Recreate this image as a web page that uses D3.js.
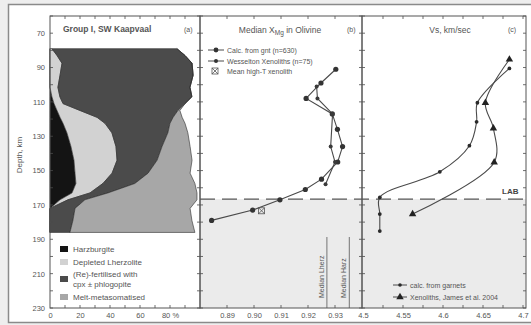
<!DOCTYPE html>
<html>
<head>
<meta charset="utf-8">
<script src="https://cdn.jsdelivr.net/npm/d3@7"></script>
<style>
  html, body { margin: 0; padding: 0; background: #eeeeee; }
  svg { display: block; font-family: "Liberation Sans", Arial, sans-serif; }
</style>
</head>
<body>
<svg id="chart" width="531" height="325"></svg>
<script>
// ---------- Panel (a): lithology proportions with depth (%) ----------
const litDepth      = [79, 83, 87.5, 94.5, 101.5, 107, 111, 115, 119, 122.5, 128, 136, 144, 151.5, 157.5, 163, 167, 172, 179, 186];
const harzburgite   = [0, 0, 0, 0, 0, 1.3, 2.7, 4.7, 6.7, 8.7, 11.3, 14, 16, 16.7, 17.3, 14.7, 6.7, 0, 0, 0];
const depletedLherz = [1.3, 4.7, 8, 6.7, 5.3, 5.3, 6, 15.3, 24.7, 28, 30, 30, 28.7, 24.7, 18, 12, 5.3, 0, 0, 0];
const refertilised  = [83.3, 85.3, 86.7, 88.7, 88, 88, 81.3, 65.3, 50.7, 43.3, 37.3, 30.7, 26.7, 24, 21.3, 12, 11.3, 16.7, 15.3, 13.3];
const meltMetasom   = [0, 0, 0, 0, 0, 0, 0, 1.3, 6, 10, 13.3, 18.7, 23.3, 28, 40, 59.3, 74.7, 76.7, 79.3, 83.3];
const litKeys   = ["harz", "dep", "refert", "melt"];
const litColors = ["#141414", "#d2d2d2", "#4b4b4b", "#a7a7a7"];
const litLabels = [["Harzburgite"], ["Depleted Lherzolite"], ["(Re)-fertilised with", "cpx \u00b1 phlogopite"], ["Melt-metasomatised"]];

// ---------- Panel (b): median Mg# in olivine ----------
const gntDepth = [91, 99, 108, 117, 126, 136, 145, 155, 161, 167, 173, 179];
const gntXmg   = [0.9303, 0.9248, 0.9193, 0.9290, 0.9309, 0.9328, 0.9310, 0.9250, 0.9190, 0.9096, 0.8995, 0.8843];
const wesDepth = [101, 108, 117, 136, 145, 158];
const wesXmg   = [0.9232, 0.9235, 0.9291, 0.9284, 0.9300, 0.9265];
const highTDepth = 173.4, highTXmg = 0.9028;
const medianLherz = 0.927, medianHarz = 0.9353;

// ---------- Panel (c): shear-wave velocity ----------
const vsGntDepth = [90.5, 110.5, 121.6, 135.5, 150.7, 165.6, 175.3, 185.2];
const vsGnt      = [4.683, 4.643, 4.642, 4.633, 4.596, 4.521, 4.521, 4.521];
const vsXenDepth = [85.3, 110.5, 125.4, 145.2, 175.3];
const vsXen      = [4.683, 4.653, 4.663, 4.664, 4.562];

const labDepth = 166.6;
const depthLabels = [70, 90, 110, 130, 150, 170, 190, 210, 230];
const pctLabels = [0, 20, 40, 60, 80];
const xmgLabels = [0.89, 0.90, 0.91, 0.92, 0.93];
const vsLabels = [4.5, 4.55, 4.6, 4.65, 4.7];

const svg = d3.select("#chart");
const ink = "#4a4a4a", txt = "#555";

// scales
const y  = d3.scaleLinear().domain([60, 230]).range([16, 308]);
const xa = d3.scaleLinear().domain([0, 100]).range([50, 200]);
const xb = d3.scaleLinear().domain([0.88, 0.94]).range([200, 362]);
const xc = d3.scaleLinear().domain([4.5, 4.7]).range([363, 523]);
const plotTop = 16, plotBot = 308;
const panels = [
  { x0: 50, x1: 200, sx: xa, minor: d3.range(0, 101, 10) },
  { x0: 200, x1: 362, sx: xb, minor: d3.range(0.88, 0.9401, 0.01) },
  { x0: 362, x1: 526, sx: xc, minor: d3.range(4.5, 4.701, 0.025) }
];

// figure frame
svg.append("rect").attr("x", 8.5).attr("y", 4.5).attr("width", 530).attr("height", 318)
  .attr("fill", "#fff").attr("stroke", "#8a8a8a").attr("stroke-width", 1.5);

// shaded zone below the LAB in panels b and c
svg.append("rect").attr("x", 200).attr("y", y(labDepth)).attr("width", 326).attr("height", plotBot - y(labDepth))
  .attr("fill", "#ebebeb");

// ---------- panel (a) stacked areas ----------
const litRows = litDepth.map((d, i) => ({ depth: d, harz: harzburgite[i], dep: depletedLherz[i], refert: refertilised[i], melt: meltMetasom[i] }));
const stack = d3.stack().keys(litKeys)(litRows);
const area = d3.area()
  .y(d => y(d.data.depth))
  .x0(d => xa(d[0]))
  .x1(d => xa(d[1]));
svg.append("g").selectAll("path").data(stack).join("path")
  .attr("d", area)
  .attr("fill", (d, i) => litColors[i])
  .attr("stroke", "#2e2e2e").attr("stroke-width", 0.6).attr("stroke-linejoin", "round");

// panel (a) legend
const legA = svg.append("g").attr("font-size", 8).attr("fill", txt);
const legRows = [249, 262, 279, 297];
litLabels.forEach((lines, i) => {
  legA.append("rect").attr("x", 60).attr("y", legRows[i] - 3).attr("width", 8).attr("height", 6)
    .attr("fill", litColors[i]);
  const t = legA.append("text").attr("x", 73).attr("y", legRows[i] + 3 - (lines.length - 1) * 5.5);
  lines.forEach((l, k) => t.append("tspan").attr("x", 73).attr("dy", k ? 10.5 : 0).text(l));
});

// LAB dashed line
svg.append("line").attr("x1", 200).attr("x2", 526).attr("y1", y(labDepth)).attr("y2", y(labDepth))
  .attr("stroke", "#555").attr("stroke-width", 1.2).attr("stroke-dasharray", "15,7");
svg.append("text").attr("x", 502).attr("y", y(labDepth) - 5).attr("font-size", 8)
  .attr("font-weight", "bold").attr("fill", "#444").text("LAB");

// panel (b) median reference lines
[[medianLherz, "Median Lherz", 324], [medianHarz, "Median Harz", 346]].forEach(([v, label, tx]) => {
  svg.append("line").attr("x1", xb(v)).attr("x2", xb(v)).attr("y1", 237).attr("y2", plotBot)
    .attr("stroke", "#666").attr("stroke-width", 0.9);
  svg.append("text").attr("transform", `translate(${tx},298) rotate(-90)`)
    .attr("font-size", 7).attr("fill", txt).text(label);
});

// ---------- panel (b) series ----------
const lineB = d3.line().x(d => xb(d[1])).y(d => y(d[0]));
const gntPts = gntDepth.map((d, i) => [d, gntXmg[i]]);
const wesPts = wesDepth.map((d, i) => [d, wesXmg[i]]);
svg.append("path").attr("d", lineB(wesPts)).attr("fill", "none").attr("stroke", ink).attr("stroke-width", 1.1);
svg.append("path").attr("d", lineB(gntPts)).attr("fill", "none").attr("stroke", ink).attr("stroke-width", 1.1);
svg.append("g").selectAll("circle").data(gntPts).join("circle")
  .attr("cx", d => xb(d[1])).attr("cy", d => y(d[0])).attr("r", 2.6).attr("fill", "#333");
svg.append("g").selectAll("circle").data(wesPts).join("circle")
  .attr("cx", d => xb(d[1])).attr("cy", d => y(d[0])).attr("r", 2.0).attr("fill", "#3a3a3a");

function boxCross(g, cx, cy) {
  g.append("rect").attr("x", cx - 3).attr("y", cy - 3).attr("width", 6).attr("height", 6)
    .attr("fill", "none").attr("stroke", "#555").attr("stroke-width", 0.8);
  g.append("path").attr("d", `M${cx - 3},${cy - 3}L${cx + 3},${cy + 3}M${cx + 3},${cy - 3}L${cx - 3},${cy + 3}`)
    .attr("stroke", "#555").attr("stroke-width", 0.8);
}
boxCross(svg, xb(highTXmg), y(highTDepth));

// panel (b) legend
const legB = svg.append("g").attr("font-size", 7).attr("fill", txt);
[["Calc. from gnt (n=630)", 50, 2.4], ["Wesselton Xenoliths (n=75)", 61, 2.0]].forEach(([l, ly, r]) => {
  legB.append("line").attr("x1", 208).attr("x2", 224).attr("y1", ly).attr("y2", ly).attr("stroke", ink);
  legB.append("circle").attr("cx", 216).attr("cy", ly).attr("r", r).attr("fill", "#333");
  legB.append("text").attr("x", 227).attr("y", ly + 2.5).text(l);
});
boxCross(legB, 215, 71);
legB.append("text").attr("x", 227).attr("y", 73.5).text("Mean high-T xenolith");

// ---------- panel (c) series ----------
const lineC = d3.line().x(d => xc(d[1])).y(d => y(d[0])).curve(d3.curveCatmullRom.alpha(0.5));
const vsGntPts = vsGntDepth.map((d, i) => [d, vsGnt[i]]);
const vsXenPts = vsXenDepth.map((d, i) => [d, vsXen[i]]);
svg.append("path").attr("d", lineC(vsGntPts)).attr("fill", "none").attr("stroke", ink).attr("stroke-width", 1.1);
svg.append("path").attr("d", lineC(vsXenPts)).attr("fill", "none").attr("stroke", ink).attr("stroke-width", 1.1);
svg.append("g").selectAll("circle").data(vsGntPts).join("circle")
  .attr("cx", d => xc(d[1])).attr("cy", d => y(d[0])).attr("r", 1.9).attr("fill", "#2a2a2a");
const tri = d3.symbol().type(d3.symbolTriangle).size(24);
svg.append("g").selectAll("path").data(vsXenPts).join("path")
  .attr("transform", d => `translate(${xc(d[1])},${y(d[0])})`).attr("d", tri).attr("fill", "#222");

// panel (c) legend
const legC = svg.append("g").attr("font-size", 7).attr("fill", txt);
legC.append("line").attr("x1", 393).attr("x2", 407).attr("y1", 285).attr("y2", 285).attr("stroke", ink);
legC.append("circle").attr("cx", 400).attr("cy", 285).attr("r", 1.8).attr("fill", "#2a2a2a");
legC.append("text").attr("x", 410).attr("y", 287.5).text("calc. from garnets");
legC.append("line").attr("x1", 393).attr("x2", 407).attr("y1", 297).attr("y2", 297).attr("stroke", ink);
legC.append("path").attr("transform", "translate(400,297)").attr("d", tri).attr("fill", "#222");
legC.append("text").attr("x", 410).attr("y", 299.5).text("Xenoliths, James et al. 2004");

// ---------- frames and ticks ----------
const depthMinor = d3.range(60, 231, 10);
panels.forEach(p => {
  const g = svg.append("g").attr("stroke", ink).attr("stroke-width", 0.8);
  depthMinor.forEach(d => {
    g.append("line").attr("x1", p.x0).attr("x2", p.x0 + 3).attr("y1", y(d)).attr("y2", y(d));
    g.append("line").attr("x1", p.x1).attr("x2", p.x1 - 3).attr("y1", y(d)).attr("y2", y(d));
  });
  p.minor.forEach(v => {
    const xx = p.sx(v);
    if (xx <= p.x0 + 1 || xx >= p.x1 - 1) return;
    g.append("line").attr("x1", xx).attr("x2", xx).attr("y1", plotTop).attr("y2", plotTop + 3);
    g.append("line").attr("x1", xx).attr("x2", xx).attr("y1", plotBot).attr("y2", plotBot - 3);
  });
  svg.append("rect").attr("x", p.x0).attr("y", plotTop).attr("width", p.x1 - p.x0).attr("height", plotBot - plotTop)
    .attr("fill", "none").attr("stroke", "#555").attr("stroke-width", 1);
});

// axis labels via d3 axes
function styleAxis(g) {
  g.select(".domain").remove();
  g.selectAll("text").attr("fill", txt).attr("font-size", 7.5).attr("font-family", "Liberation Sans, Arial, sans-serif");
}
svg.append("g").attr("transform", "translate(50,0)")
  .call(d3.axisLeft(y).tickValues(depthLabels).tickSize(0).tickPadding(5)).call(styleAxis);
svg.append("g").attr("transform", `translate(0,${plotBot})`)
  .call(d3.axisBottom(xa).tickValues(pctLabels).tickSize(0).tickPadding(5).tickFormat(d => d === 80 ? "80 %" : d))
  .call(styleAxis);
svg.append("g").attr("transform", `translate(0,${plotBot})`)
  .call(d3.axisBottom(xb).tickValues(xmgLabels).tickSize(0).tickPadding(5).tickFormat(d3.format(".2f")))
  .call(styleAxis);
svg.append("g").attr("transform", `translate(0,${plotBot})`)
  .call(d3.axisBottom(xc).tickValues(vsLabels).tickSize(0).tickPadding(5).tickFormat(d3.format(".3~f")))
  .call(styleAxis);

// titles
svg.append("text").attr("transform", "translate(22,155) rotate(-90)").attr("text-anchor", "middle")
  .attr("font-size", 8).attr("fill", txt).text("Depth, km");
svg.append("text").attr("x", 63).attr("y", 32).attr("font-size", 8.5).attr("font-weight", "bold")
  .attr("fill", "#555").text("Group I, SW Kaapvaal");
svg.append("text").attr("x", 184).attr("y", 31.5).attr("font-size", 7).attr("fill", txt).text("(a)");
const tb = svg.append("text").attr("x", 280).attr("y", 33).attr("text-anchor", "middle")
  .attr("font-size", 8.5).attr("fill", txt);
tb.append("tspan").text("Median X");
tb.append("tspan").attr("font-size", 6.5).attr("dy", 2).text("Mg");
tb.append("tspan").attr("dy", -2).text(" in Olivine");
svg.append("text").attr("x", 347).attr("y", 31.5).attr("font-size", 7).attr("fill", txt).text("(b)");
svg.append("text").attr("x", 450).attr("y", 33).attr("text-anchor", "middle")
  .attr("font-size", 8.5).attr("fill", txt).text("Vs, km/sec");
svg.append("text").attr("x", 508).attr("y", 31.5).attr("font-size", 7).attr("fill", txt).text("(c)");
</script>
</body>
</html>
